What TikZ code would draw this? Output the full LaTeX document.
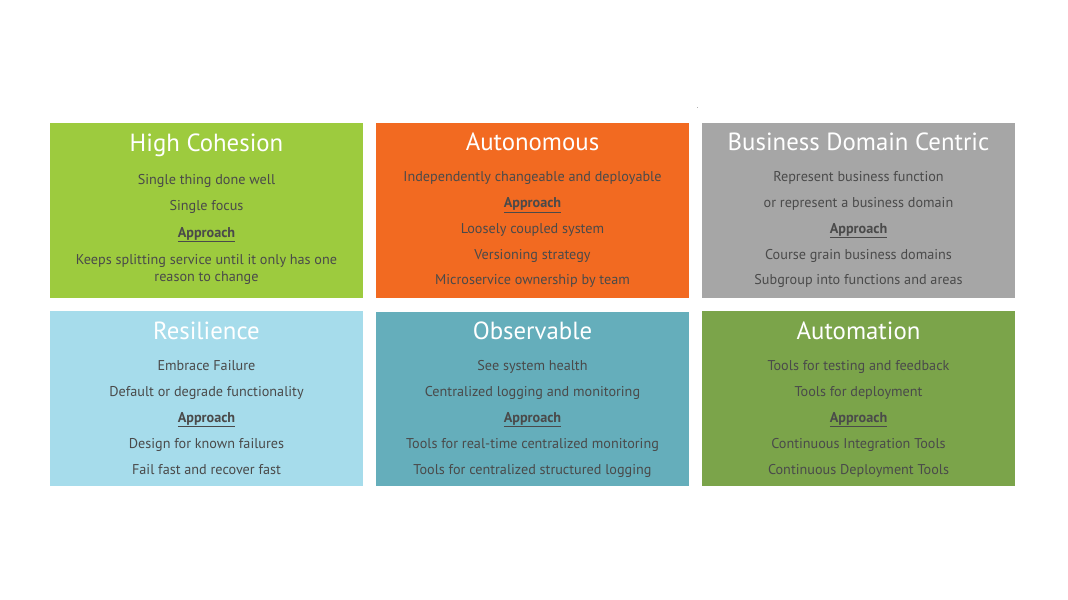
\documentclass[tikz,border=0pt]{standalone}
\usepackage{fontspec}
\setmainfont{PT Sans}
\begin{document}
\begin{tikzpicture}[x=0.75pt,y=-0.75pt,
  ttl/.style={anchor=base,text=white,font=\fontsize{18.6}{21}\selectfont,inner sep=0pt},
  txt/.style={anchor=base,text=txtgray,font=\fontsize{10.65}{12.7}\selectfont,inner sep=0pt,align=center},
  appr/.style={txt,font=\fontsize{10.65}{12.7}\selectfont\bfseries}
]
\definecolor{txtgray}{HTML}{4A4A4A}
\definecolor{cgreen}{HTML}{9DCB3E}
\definecolor{corange}{HTML}{F26A21}
\definecolor{cgray}{HTML}{A6A6A6}
\definecolor{clblue}{HTML}{A6DCEB}
\definecolor{cteal}{HTML}{65AEBB}
\definecolor{colive}{HTML}{7BA44A}
\useasboundingbox (0,0) rectangle (1068,600);
\fill[white] (0,0) rectangle (1068,600);
\fill[gray!60] (696.5,106.5) rectangle (697.5,107.5);
% boxes
\fill[cgreen] (50,123) rectangle (363,298);
\fill[corange] (376,123) rectangle (689,298);
\fill[cgray] (702,123) rectangle (1015,298);
\fill[clblue] (50,311) rectangle (363,486);
\fill[cteal] (376,312) rectangle (689,486);
\fill[colive] (702,311) rectangle (1015,486);
% High Cohesion
\node[ttl] (t1) at (206.5,151.5) {High Cohesion};
\node[txt] (a1) at (206.5,184) {Single thing done well};
\node[txt] (a2) at (206.5,210.7) {Single focus};
\node[appr] (a3) at (206.5,237) {\underline{Approach}};
\node[txt] (a4) at (206.5,264) {Keeps splitting service until it only has one};
\node[txt] (a5) at (206.5,281.7) {reason to change};
% Autonomous
\node[ttl] (t2) at (532.5,150) {Autonomous};
\node[txt] (b1) at (532.5,181.7) {Independently changeable and deployable};
\node[appr] (b2) at (532.5,207.5) {\underline{Approach}};
\node[txt] (b3) at (532.5,233) {Loosely coupled system};
\node[txt] (b4) at (532.5,259) {Versioning strategy};
\node[txt] (b5) at (532.5,284.5) {Microservice ownership by team};
% Business Domain Centric
\node[ttl] (t3) at (858.5,150) {Business Domain Centric};
\node[txt] (c1) at (858.5,181.7) {Represent business function};
\node[txt] (c2) at (858.5,207.5) {or represent a business domain};
\node[appr] (c3) at (858.5,233) {\underline{Approach}};
\node[txt] (c4) at (858.5,259) {Course grain business domains};
\node[txt] (c5) at (858.5,284.5) {Subgroup into functions and areas};
% Resilience
\node[ttl] (t4) at (206.5,339) {Resilience};
\node[txt] (d1) at (206.5,370) {Embrace Failure};
\node[txt] (d2) at (206.5,396) {Default or degrade functionality};
\node[appr] (d3) at (206.5,422) {\underline{Approach}};
\node[txt] (d4) at (206.5,448) {Design for known failures};
\node[txt] (d5) at (206.5,474) {Fail fast and recover fast};
% Observable
\node[ttl] (t5) at (532.5,339) {Observable};
\node[txt] (e1) at (532.5,370) {See system health};
\node[txt] (e2) at (532.5,396) {Centralized logging and monitoring};
\node[appr] (e3) at (532.5,422) {\underline{Approach}};
\node[txt] (e4) at (532.5,448) {Tools for real-time centralized monitoring};
\node[txt] (e5) at (532.5,474) {Tools for centralized structured logging};
% Automation
\node[ttl] (t6) at (858.5,339) {Automation};
\node[txt] (f1) at (858.5,370) {Tools for testing and feedback};
\node[txt] (f2) at (858.5,396) {Tools for deployment};
\node[appr] (f3) at (858.5,422) {\underline{Approach}};
\node[txt] (f4) at (858.5,448) {Continuous Integration Tools};
\node[txt] (f5) at (858.5,474) {Continuous Deployment Tools};
\end{tikzpicture}
\end{document}
